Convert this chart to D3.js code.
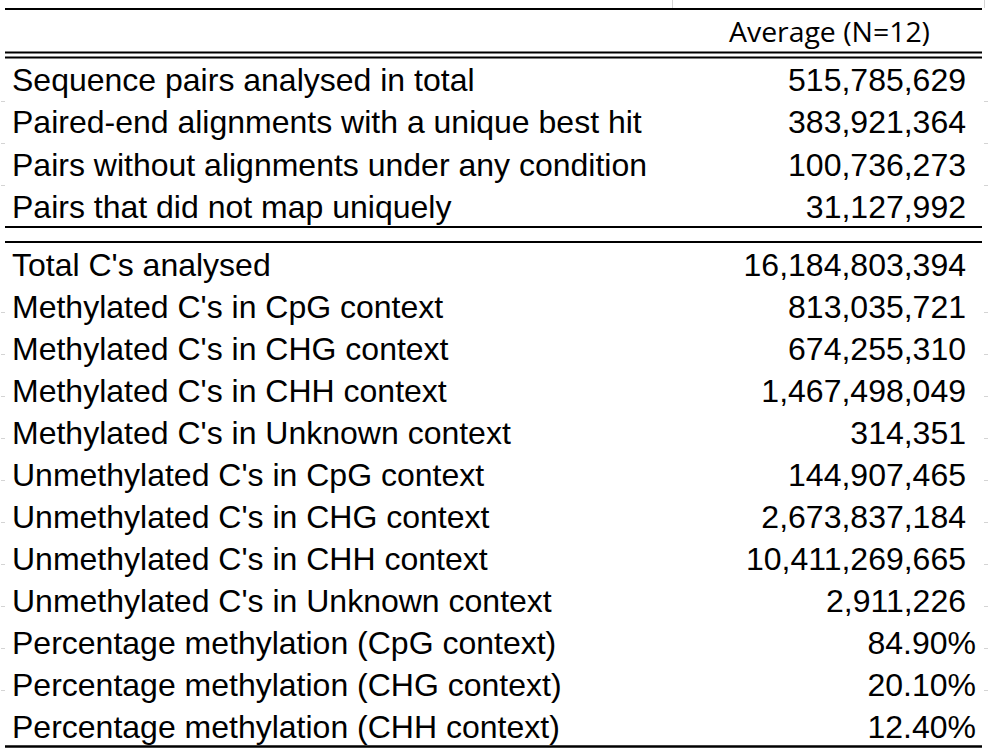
<!DOCTYPE html>
<html><head><meta charset="utf-8">
<script src="https://cdn.jsdelivr.net/npm/d3@7"></script>
<style>body{margin:0;background:#fff}svg{display:block}</style>
</head><body>
<svg id="c" width="990" height="752"></svg>
<script>
const header = "Average (N=12)";
const labels1 = [
  "Sequence pairs analysed in total",
  "Paired-end alignments with a unique best hit",
  "Pairs without alignments under any condition",
  "Pairs that did not map uniquely"
];
const values1 = [515785629, 383921364, 100736273, 31127992];
const labels2 = [
  "Total C's analysed",
  "Methylated C's in CpG context",
  "Methylated C's in CHG context",
  "Methylated C's in CHH context",
  "Methylated C's in Unknown context",
  "Unmethylated C's in CpG context",
  "Unmethylated C's in CHG context",
  "Unmethylated C's in CHH context",
  "Unmethylated C's in Unknown context",
  "Percentage methylation (CpG context)",
  "Percentage methylation (CHG context)",
  "Percentage methylation (CHH context)"
];
const values2 = [16184803394, 813035721, 674255310, 1467498049, 314351, 144907465, 2673837184, 10411269665, 2911226, 0.849, 0.201, 0.124];
const isPct2 = [false,false,false,false,false,false,false,false,false,true,true,true];

const svg = d3.select("#c");
const x = d3.scaleLinear().domain([0,1]).range([5,982]);
const y1 = d3.scaleLinear().domain([0,3]).range([91,218]);
const y2 = d3.scaleLinear().domain([0,11]).range([276,738]);
const fmtN = d3.format(",");
const fmtP = d3.format(".2%");

// faint spreadsheet gridlines
const grid = svg.append("g").attr("stroke","#d4d4d4").attr("stroke-width",1);
grid.append("line").attr("x1",672.5).attr("x2",672.5).attr("y1",0).attr("y2",8);
grid.append("line").attr("x1",984.5).attr("x2",984.5).attr("y1",0).attr("y2",8);
const bounds = [101,143,185,312,354,396,438,480,522,564,606,648,690];
bounds.forEach(b=>{
  grid.append("line").attr("x1",1).attr("x2",5).attr("y1",b+0.5).attr("y2",b+0.5);
  grid.append("line").attr("x1",984).attr("x2",988).attr("y1",b+0.5).attr("y2",b+0.5);
});

// rules
const rules = [[9,2],[52.5,2],[57.5,2],[227,2],[242,2],[746.5,2.5]];
svg.append("g").selectAll("line").data(rules).join("line")
  .attr("x1",x(0)).attr("x2",x(1))
  .attr("y1",d=>d[0]).attr("y2",d=>d[0])
  .attr("stroke","#000").attr("stroke-width",d=>d[1]);

// header
svg.append("text").attr("x",930).attr("y",42).attr("text-anchor","end")
  .style("font-family","'Open Sans', sans-serif").style("font-size","27px")
  .attr("textLength",201).attr("lengthAdjust","spacingAndGlyphs")
  .attr("fill","#000").text(header);

const g = svg.append("g").style("font-family","Arial, 'Liberation Sans', Helvetica, sans-serif").style("font-size","32px").attr("fill","#000");
g.selectAll("text.l1").data(labels1).join("text").attr("class","l1")
  .attr("x",12).attr("y",(d,i)=>y1(i)).text(d=>d);
g.selectAll("text.v1").data(values1).join("text").attr("class","v1")
  .attr("x",966).attr("y",(d,i)=>y1(i)).attr("text-anchor","end").text(d=>fmtN(d));
g.selectAll("text.l2").data(labels2).join("text").attr("class","l2")
  .attr("x",12).attr("y",(d,i)=>y2(i)).text(d=>d);
g.selectAll("text.v2").data(values2).join("text").attr("class","v2")
  .attr("x",(d,i)=>isPct2[i]?976:966).attr("y",(d,i)=>y2(i)).attr("text-anchor","end")
  .text((d,i)=>isPct2[i]?fmtP(d):fmtN(d));
</script>
</body></html>
